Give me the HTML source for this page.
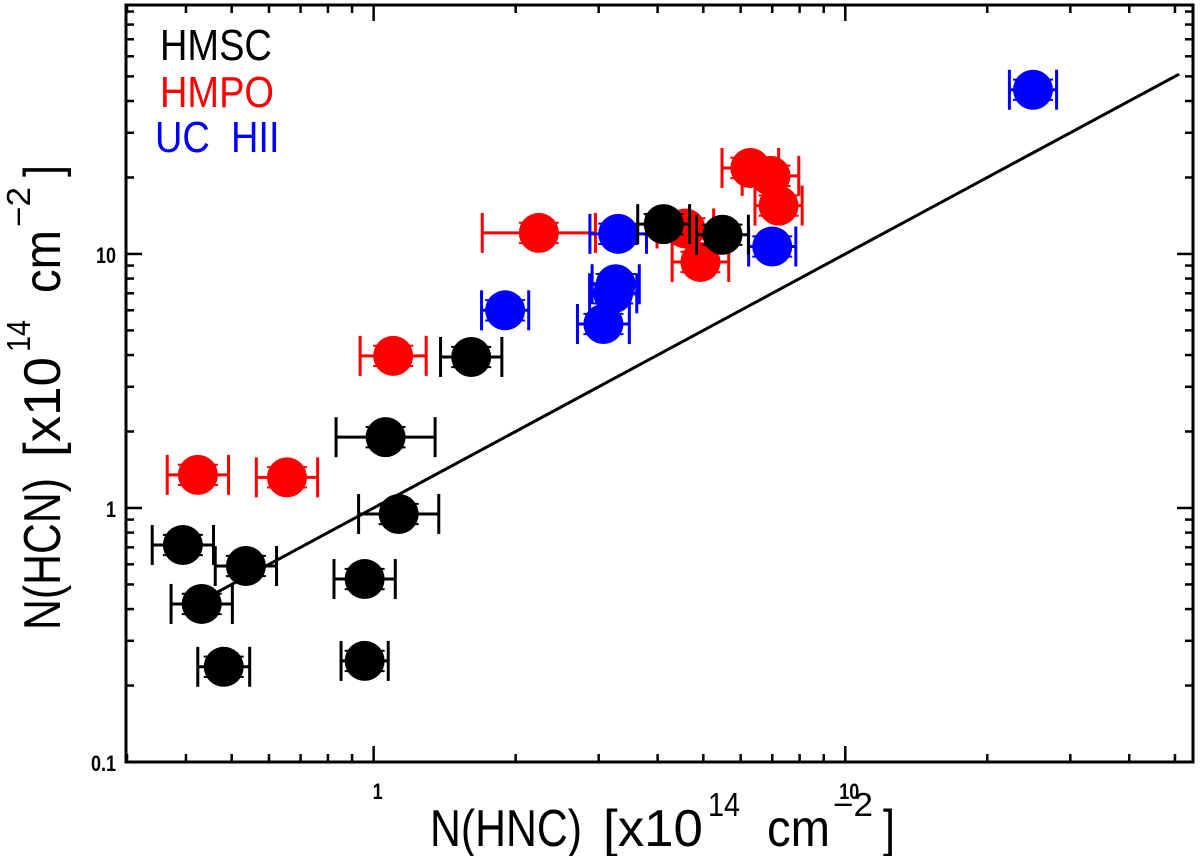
<!DOCTYPE html>
<html><head><meta charset="utf-8"><style>
html,body{margin:0;padding:0;background:#fff;}
svg{display:block;font-family:"Liberation Sans",sans-serif;}
</style></head><body>
<svg id="chart" width="1200" height="856" viewBox="0 0 1200 856"></svg>
<script>
// ---- data ----
const blackX = [0.394,0.432,0.536,0.481,0.957,0.957,1.13,1.06,1.61,4.12,5.49];
const blackY = [0.715,0.419,0.591,0.237,0.25,0.525,0.947,1.9,3.93,13.1,11.9];
const blackXerr = [0.065,0.065,0.065,0.055,0.05,0.065,0.085,0.105,0.065,0.055,0.055];
const redX = [0.424,0.655,1.10,2.24,4.58,4.93,6.29,6.94,7.22];
const redY = [1.35,1.32,3.97,12.1,12.6,9.3,21.8,20.3,15.5];
const redXerr = [0.065,0.065,0.07,0.12,0.06,0.06,0.06,0.06,0.05];
const blueX = [1.90,3.07,3.22,3.26,3.30,7.0,25.0];
const blueY = [6.0,5.3,7.0,7.6,12.0,10.7,44.3];
const blueXerr = [0.05,0.055,0.05,0.05,0.06,0.05,0.05];
const yErrDex = 0.04;
const xTickLabels = ["1","10"];
const xTickVals = [1,10];
const yTickLabels = ["0.1","1","10"];
const yTickVals = [0.1,1,10];
const fitLine = [0.43,51];

// ---- axes ----
const L=126,R=1193,T=5,B=762;
const xMin=Math.log10(0.2985), xMax=Math.log10(54.6);
const yMin=-1, yMax=Math.log10(95.5);
const sx=v=>L+(Math.log10(v)-xMin)/(xMax-xMin)*(R-L);
const sy=v=>B-(Math.log10(v)-yMin)/(yMax-yMin)*(B-T);
const NS="http://www.w3.org/2000/svg";
const svg=document.getElementById('chart');
function mk(tag,attrs,parent){const e=document.createElementNS(NS,tag);for(const k in attrs)e.setAttribute(k,attrs[k]);(parent||svg).appendChild(e);return e;}

// ticks
const ticks=mk('g',{stroke:'#000','stroke-width':2.5});


for(let d=-1;d<=1;d++)for(let m=1;m<=9;m++){const v=m*Math.pow(10,d);const x=sx(v);if(x<L+1||x>R-1)continue;const len=m===1?16:8;
 mk('line',{x1:x,y1:B,x2:x,y2:B-len},ticks);mk('line',{x1:x,y1:T,x2:x,y2:T+len},ticks);}
for(let d=-1;d<=1;d++)for(let m=1;m<=9;m++){const v=m*Math.pow(10,d);const y=sy(v);if(y<T+1||y>B-1)continue;const len=m===1?16:8;
 mk('line',{x1:L,y1:y,x2:L+len,y2:y},ticks);mk('line',{x1:R,y1:y,x2:R-len,y2:y},ticks);}

// fit line
const fl=mk('line',{x1:sx(fitLine[0]),y1:sy(fitLine[0]),x2:sx(fitLine[1]),y2:sy(fitLine[1]),stroke:'#000','stroke-width':3});



function series(xs,ys,errs,color,name){
 const g=mk('g',{});
 
 
 xs.forEach((xv,i)=>{
  const cx=sx(xv),cy=sy(ys[i]);
  const xl=sx(xv/Math.pow(10,errs[i])),xh=sx(xv*Math.pow(10,errs[i]));
  const yu=sy(ys[i]*Math.pow(10,yErrDex)),yd=sy(ys[i]/Math.pow(10,yErrDex));
  const p=mk('g',{stroke:color,fill:color},g);
  
  
  mk('line',{x1:xl,y1:cy,x2:xh,y2:cy,'stroke-width':3},p);
  mk('line',{x1:xl,y1:cy-20,x2:xl,y2:cy+20,'stroke-width':3},p);
  mk('line',{x1:xh,y1:cy-20,x2:xh,y2:cy+20,'stroke-width':3},p);
  mk('line',{x1:cx-20,y1:yu,x2:cx+20,y2:yu,'stroke-width':2},p);
  mk('line',{x1:cx-20,y1:yd,x2:cx+20,y2:yd,'stroke-width':2},p);
  mk('circle',{cx:cx,cy:cy,r:20,stroke:'none'},p);
 });
}
series(redX,redY,redXerr,'#ff0000','hmpo');
series(blueX,blueY,blueXerr,'#0000ff','uchii');
series(blackX,blackY,blackXerr,'#000000','hmsc');

// frame
const fr=mk('rect',{x:L,y:T,width:R-L,height:B-T,fill:'none',stroke:'#000','stroke-width':3});



// tick labels
xTickVals.forEach((v,i)=>{const t=mk('text',{x:0,y:0,'text-anchor':'middle','font-size':18,'font-weight':'bold',transform:'translate('+(sx(v)+4)+','+(B+37)+') scale(1,1.25)'});t.textContent=xTickLabels[i];
 
 });
yTickVals.forEach((v,i)=>{const t=mk('text',{x:0,y:0,'text-anchor':'end','font-size':18,'font-weight':'bold',transform:'translate('+(L-10)+','+(sy(v)+9)+') scale(1,1.25)'});t.textContent=yTickLabels[i];
 
 });
</script>
<svg width="1200" height="856" style="position:absolute;left:0;top:0;font-family:'Liberation Sans',sans-serif;">
 <g font-size="38">
  <text x="0" y="0" transform="translate(160,60) scale(1,1.15)" fill="#000">HMSC</text>
  <text x="0" y="0" transform="translate(160,107) scale(1,1.15)" fill="#ff0000">HMPO</text>
  <text x="0" y="0" transform="translate(155,152) scale(1,1.15)" fill="#0000ff" xml:space="preserve">UC  HII</text>
 </g>
 <g transform="translate(430,846) scale(1,1.2)" font-size="43">
  <text x="0" y="0" textLength="152" lengthAdjust="spacingAndGlyphs">N(HNC)</text>
  <text x="173" y="0" textLength="100" lengthAdjust="spacingAndGlyphs">[x10</text>
  <text x="278" y="-25" font-size="28" textLength="32" lengthAdjust="spacingAndGlyphs">14</text>
  <text x="337" y="0" textLength="63" lengthAdjust="spacingAndGlyphs">cm</text>
  <text x="403" y="-25" font-size="28" textLength="40" lengthAdjust="spacingAndGlyphs">−2</text>
  <text x="453" y="0" textLength="12" lengthAdjust="spacingAndGlyphs">]</text>
 </g>
 <g transform="translate(60,630) rotate(-90) scale(1,1.2)" font-size="43">
  <text x="0" y="0" textLength="152" lengthAdjust="spacingAndGlyphs">N(HCN)</text>
  <text x="173" y="0" textLength="100" lengthAdjust="spacingAndGlyphs">[x10</text>
  <text x="278" y="-25" font-size="28" textLength="32" lengthAdjust="spacingAndGlyphs">14</text>
  <text x="337" y="0" textLength="63" lengthAdjust="spacingAndGlyphs">cm</text>
  <text x="403" y="-25" font-size="28" textLength="40" lengthAdjust="spacingAndGlyphs">−2</text>
  <text x="453" y="0" textLength="12" lengthAdjust="spacingAndGlyphs">]</text>
 </g>
</svg>
</body></html>
